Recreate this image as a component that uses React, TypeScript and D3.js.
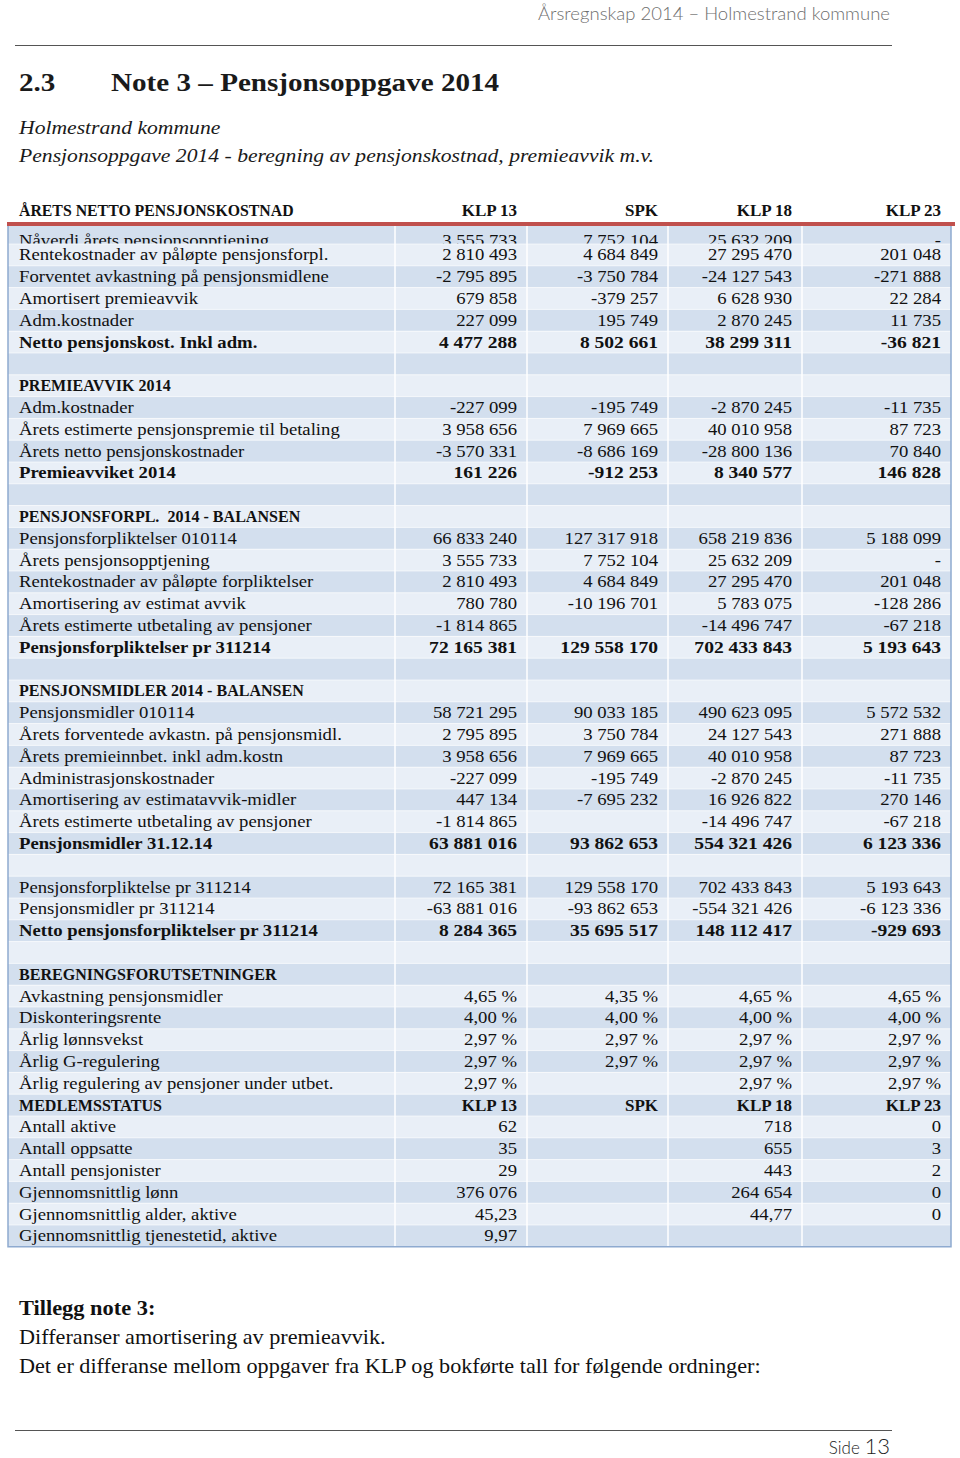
import * as d3 from 'd3';

// header of the page
const pageHeader = 'Årsregnskap 2014 – Holmestrand kommune';
const titleNum = '2.3';
const titleText = 'Note 3 – Pensjonsoppgave 2014';
const subtitles = ['Holmestrand kommune', 'Pensjonsoppgave 2014 - beregning av pensjonskostnad, premieavvik m.v.'];

// table
const columns = ['KLP 13', 'SPK', 'KLP 18', 'KLP 23'];
const headerLabel = 'ÅRETS NETTO PENSJONSKOSTNAD';

const labels = [
  'Nåverdi årets pensjonsopptjening',
  'Rentekostnader av påløpte pensjonsforpl.',
  'Forventet avkastning på pensjonsmidlene',
  'Amortisert premieavvik',
  'Adm.kostnader',
  'Netto pensjonskost. Inkl adm.',
  '',
  'PREMIEAVVIK 2014',
  'Adm.kostnader',
  'Årets estimerte pensjonspremie til betaling',
  'Årets netto pensjonskostnader',
  'Premieavviket 2014',
  '',
  'PENSJONSFORPL.  2014 - BALANSEN',
  'Pensjonsforpliktelser 010114',
  'Årets pensjonsopptjening',
  'Rentekostnader av påløpte forpliktelser',
  'Amortisering av estimat avvik',
  'Årets estimerte utbetaling av pensjoner',
  'Pensjonsforpliktelser pr 311214',
  '',
  'PENSJONSMIDLER 2014 - BALANSEN',
  'Pensjonsmidler 010114',
  'Årets forventede avkastn. på pensjonsmidl.',
  'Årets premieinnbet. inkl adm.kostn',
  'Administrasjonskostnader',
  'Amortisering av estimatavvik-midler',
  'Årets estimerte utbetaling av pensjoner',
  'Pensjonsmidler 31.12.14',
  '',
  'Pensjonsforpliktelse pr 311214',
  'Pensjonsmidler pr 311214',
  'Netto pensjonsforpliktelser pr 311214',
  '',
  'BEREGNINGSFORUTSETNINGER',
  'Avkastning pensjonsmidler',
  'Diskonteringsrente',
  'Årlig lønnsvekst',
  'Årlig G-regulering',
  'Årlig regulering av pensjoner under utbet.',
  'MEDLEMSSTATUS',
  'Antall aktive',
  'Antall oppsatte',
  'Antall pensjonister',
  'Gjennomsnittlig lønn',
  'Gjennomsnittlig alder, aktive',
  'Gjennomsnittlig tjenestetid, aktive',
];

const klp13 = [
  '3 555 733', '2 810 493', '-2 795 895', '679 858', '227 099', '4 477 288', '',
  '', '-227 099', '3 958 656', '-3 570 331', '161 226', '',
  '', '66 833 240', '3 555 733', '2 810 493', '780 780', '-1 814 865', '72 165 381', '',
  '', '58 721 295', '2 795 895', '3 958 656', '-227 099', '447 134', '-1 814 865', '63 881 016', '',
  '72 165 381', '-63 881 016', '8 284 365', '',
  '', '4,65 %', '4,00 %', '2,97 %', '2,97 %', '2,97 %',
  'KLP 13', '62', '35', '29', '376 076', '45,23', '9,97',
];
const spk = [
  '7 752 104', '4 684 849', '-3 750 784', '-379 257', '195 749', '8 502 661', '',
  '', '-195 749', '7 969 665', '-8 686 169', '-912 253', '',
  '', '127 317 918', '7 752 104', '4 684 849', '-10 196 701', '', '129 558 170', '',
  '', '90 033 185', '3 750 784', '7 969 665', '-195 749', '-7 695 232', '', '93 862 653', '',
  '129 558 170', '-93 862 653', '35 695 517', '',
  '', '4,35 %', '4,00 %', '2,97 %', '2,97 %', '',
  'SPK', '', '', '', '', '', '',
];
const klp18 = [
  '25 632 209', '27 295 470', '-24 127 543', '6 628 930', '2 870 245', '38 299 311', '',
  '', '-2 870 245', '40 010 958', '-28 800 136', '8 340 577', '',
  '', '658 219 836', '25 632 209', '27 295 470', '5 783 075', '-14 496 747', '702 433 843', '',
  '', '490 623 095', '24 127 543', '40 010 958', '-2 870 245', '16 926 822', '-14 496 747', '554 321 426', '',
  '702 433 843', '-554 321 426', '148 112 417', '',
  '', '4,65 %', '4,00 %', '2,97 %', '2,97 %', '2,97 %',
  'KLP 18', '718', '655', '443', '264 654', '44,77', '',
];
const klp23 = [
  '-', '201 048', '-271 888', '22 284', '11 735', '-36 821', '',
  '', '-11 735', '87 723', '70 840', '146 828', '',
  '', '5 188 099', '-', '201 048', '-128 286', '-67 218', '5 193 643', '',
  '', '5 572 532', '271 888', '87 723', '-11 735', '270 146', '-67 218', '6 123 336', '',
  '5 193 643', '-6 123 336', '-929 693', '',
  '', '4,65 %', '4,00 %', '2,97 %', '2,97 %', '2,97 %',
  'KLP 23', '0', '3', '2', '0', '0', '',
];
const boldRows = [5, 7, 11, 13, 19, 21, 28, 32, 34, 40];

const footerNotes = [
  'Differanser amortisering av premieavvik.',
  'Det er differanse mellom oppgaver fra KLP og bokførte tall for følgende ordninger:',
];

const W = 960;
const H = 1458;
const serif = "'Liberation Serif', 'DejaVu Serif', serif";
const sans = "Lato, 'Open Sans', sans-serif";

// Cambria is wider in lowercase/digits and narrower in caps than Liberation Serif
function widthFactor(s: string, bold: boolean) {
  if (/[a-zæøå]/.test(s)) return 1.1;
  if (/^[-\d\s,%]+$/.test(s)) return bold ? 1.15 : 1.1;
  if (s.length > 8) return 0.945;
  return 1.0;
}

function T({ x, y, k = 1, anchor = 'start', children, ...rest }: any) {
  return (
    <text
      transform={`translate(${x},${y}) scale(${k},1)`}
      textAnchor={anchor}
      style={{ whiteSpace: 'pre' }}
      {...rest}
    >
      {children}
    </text>
  );
}

export default function App() {
  const values = [klp13, spk, klp18, klp23];
  const nRows = labels.length;

  // row index -> top of the row band
  const rowH = 21.8;
  const firstTop = 244;
  const y = d3.scaleLinear().domain([1, nRows]).range([firstTop, firstTop + (nRows - 1) * rowH]);
  const rowTop = (i: number) => (i === 0 ? 226 : y(i));
  const rowBottom = (i: number) => y(i + 1);

  // column edges
  const edges = [8, 395, 527, 668, 802, 951];
  const colRight = d3.scaleOrdinal<string, number>().domain(columns).range(edges.slice(2).map(e => e - 10));
  const tableBottom = rowBottom(nRows - 1);

  const stripe = (i: number) => (i % 2 === 0 ? '#D3DFEE' : '#E9EFF7');

  return (
    <svg width={W} height={H} style={{ position: 'absolute', left: 0, top: 0, background: '#fff' }}>
      <defs>
        <clipPath id="clip0">
          <rect x={0} y={226} width={W} height={17.5} />
        </clipPath>
      </defs>

      {/* page header */}
      <text x={890} y={20} textAnchor="end" fontFamily={sans} fontWeight={300} fontSize={18.5} fill="#6e6e6e">
        {pageHeader}
      </text>
      <line x1={15} x2={892} y1={45.5} y2={45.5} stroke="#555" strokeWidth={1.2} />

      {/* title */}
      <g fontFamily={serif} fontWeight="bold" fontSize={26} fill="#1a1a1a">
        <T x={19} y={91} k={1.12}>{titleNum}</T>
        <T x={111} y={91} k={1.12}>{titleText}</T>
      </g>
      {subtitles.map((s, i) => (
        <T key={s} x={19} y={134 + i * 28} k={1.11} fontFamily={serif} fontStyle="italic" fontSize={19.5} fill="#1a1a1a">
          {s}
        </T>
      ))}

      {/* column header row */}
      <g fontFamily={serif} fontWeight="bold" fontSize={17} fill="#111">
        <T x={19} y={216} k={0.93}>{headerLabel}</T>
        {columns.map(c => (
          <T key={c} x={colRight(c)} y={216} anchor="end">{c}</T>
        ))}
      </g>

      {/* stripes */}
      {labels.map((_, i) => (
        <rect key={'r' + i} x={edges[0]} y={rowTop(i)} width={edges[5] - edges[0]} height={rowBottom(i) - rowTop(i)} fill={stripe(i)} />
      ))}
      {/* row separators */}
      {labels.map((_, i) => (
        <line key={'h' + i} x1={edges[0]} x2={edges[5]} y1={rowBottom(i)} y2={rowBottom(i)} stroke="#fff" strokeOpacity={0.6} strokeWidth={1} />
      ))}
      {/* column separators */}
      {edges.slice(1, 5).map(e => (
        <line key={'v' + e} x1={e} x2={e} y1={226} y2={tableBottom} stroke="#fff" strokeWidth={1.5} />
      ))}
      {/* outer border */}
      <path
        d={`M${edges[0]},224 V${tableBottom} H${edges[5]} V224`}
        fill="none"
        stroke="#8EAAD0"
        strokeWidth={1.5}
      />
      <rect x={edges[0] - 1} y={222} width={edges[5] - edges[0] + 5} height={4} fill="#C0504D" />

      {/* cells */}
      <g fontFamily={serif} fontSize={17} fill="#111">
        {labels.map((lab, i) => {
          const base = i === 0 ? 245.5 : rowTop(i) + 16.3;
          const bold = boldRows.includes(i);
          return (
            <g key={'c' + i} fontWeight={bold ? 'bold' : 'normal'} clipPath={i === 0 ? 'url(#clip0)' : undefined}>
              <T x={19} y={base} k={widthFactor(lab, bold)}>{lab}</T>
              {columns.map((c, j) => (
                <T key={c} x={colRight(c)} y={base} k={widthFactor(values[j][i], bold)} anchor="end">
                  {values[j][i]}
                </T>
              ))}
            </g>
          );
        })}
      </g>

      {/* notes below */}
      <T x={19} y={1315} k={1.12} fontFamily={serif} fontWeight="bold" fontSize={20} fill="#111">Tillegg note 3:</T>
      {footerNotes.map((t, i) => (
        <T key={t} x={19} y={1344 + i * 28.5} k={1.11} fontFamily={serif} fontSize={20} fill="#111">{t}</T>
      ))}

      {/* page footer */}
      <line x1={15} x2={892} y1={1430.5} y2={1430.5} stroke="#555" strokeWidth={1.2} />
      <text x={890} y={1454} textAnchor="end" fontFamily={sans} fontWeight={300} fill="#222">
        <tspan fontSize={17}>Side </tspan>
        <tspan fontSize={22}>13</tspan>
      </text>
    </svg>
  );
}
